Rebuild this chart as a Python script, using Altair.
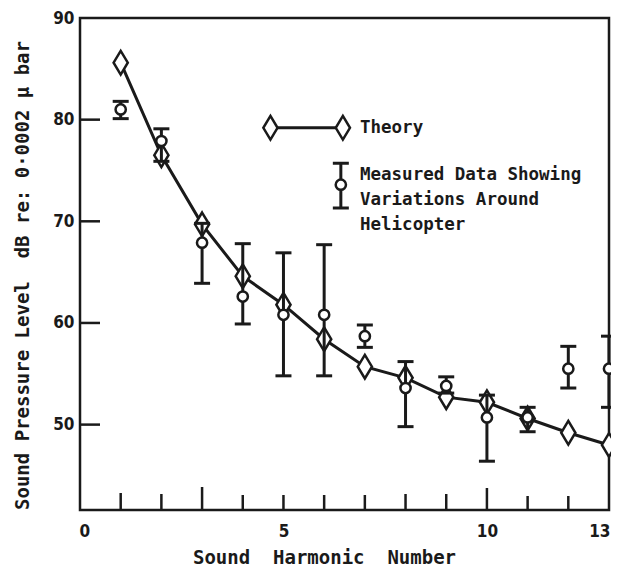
import altair as alt
import pandas as pd

# ---- data ----
harmonic = [1, 2, 3, 4, 5, 6, 7, 8, 9, 10, 11, 12, 13]
theory = [85.6, 76.5, 69.7, 64.6, 61.8, 58.4, 55.7, 54.6, 52.7, 52.2, 50.6, 49.2, 48.0]
measured = [81.0, 77.9, 67.9, 62.6, 60.8, 60.8, 58.7, 53.6, 53.8, 50.7, 50.7, 55.5, 55.5]
meas_lo = [80.1, 75.9, 63.9, 59.9, 54.8, 54.8, 57.6, 49.8, 53.1, 46.4, 49.3, 53.6, 51.7]
meas_hi = [81.8, 79.1, 69.8, 67.8, 66.9, 67.7, 59.8, 56.2, 54.7, 52.9, 51.7, 57.7, 58.7]

x_ticks = [1, 2, 3, 4, 5, 6, 7, 8, 9, 10, 11, 12]
x_tick_len = [17, 16, 23, 15, 15, 15, 15, 16, 16, 22, 14, 14]
y_ticks = [50, 60, 70, 80]

# legend annotation (in data coordinates)
leg_line_x = [4.68, 6.46]
leg_line_y = 79.2
leg_text_x = 6.88
leg_texts = ["Theory", "Measured Data Showing", "Variations Around", "Helicopter"]
leg_text_y = [79.2, 74.6, 72.1, 69.6]
leg_err_x = 6.41
leg_err = (71.3, 73.6, 75.7)  # low, centre, high

W, H = 529, 492
FONT = "DejaVu Sans Condensed"
MONO = "DejaVu Sans Mono"
INK = "#1a1a1a"
DIAMOND = "M0,-1L0.6,0L0,1L-0.6,0Z"

df = pd.DataFrame({"h": harmonic, "theory": theory, "meas": measured,
                   "lo": meas_lo, "hi": meas_hi})
xt = pd.DataFrame({"h": x_ticks, "top": [H - l for l in x_tick_len]})
yt = pd.DataFrame({"v": y_ticks})

xscale = alt.Scale(domain=[0, 13], nice=False, zero=False)
yscale = alt.Scale(domain=[41.6, 90], nice=False, zero=False)

xaxis = alt.Axis(values=[0, 5, 10, 13], ticks=False, tickSize=0, grid=False, domain=False,
                 labelFont=FONT, labelFontSize=17, labelFontWeight="bold", labelColor=INK,
                 labelPadding=13, labelFlush=True, labelFlushOffset=1,
                 title="Sound\u00a0 Harmonic\u00a0 Number", titleFont=MONO, titleFontSize=19,
                 titleFontWeight="bold", titleColor=INK, titleX=244, titleY=47,
                 titleBaseline="middle", titleAnchor="start", titleAlign="center")
yaxis = alt.Axis(values=[50, 60, 70, 80, 90], ticks=False, tickSize=0, grid=False, domain=False,
                 labelFont=FONT, labelFontSize=17, labelFontWeight="bold", labelColor=INK,
                 labelPadding=6, labelFlush=False,
                 title="Sound Pressure Level\u00a0 dB\u00a0re:\u00a00\u00b70002\u00a0\u03bc\u00a0bar",
                 titleFont=MONO, titleFontSize=19, titleFontWeight="bold", titleColor=INK,
                 titleAngle=270, titleX=-58, titleY=257, titleBaseline="middle",
                 titleAlign="center", titleAnchor="start")

base = alt.Chart(df)

line = base.mark_line(color=INK, strokeWidth=3).encode(
    x=alt.X("h:Q", scale=xscale, axis=xaxis),
    y=alt.Y("theory:Q", scale=yscale, axis=yaxis))

diamonds = base.mark_point(shape=DIAMOND, size=560, filled=True, fill="white",
                           stroke=INK, strokeWidth=2.5, opacity=1).encode(
    x="h:Q", y="theory:Q")

err = base.mark_rule(color=INK, strokeWidth=3).encode(x="h:Q", y="lo:Q", y2="hi:Q")
cap_lo = base.mark_tick(orient="horizontal", size=16, thickness=3, color=INK, opacity=1).encode(
    x="h:Q", y="lo:Q")
cap_hi = base.mark_tick(orient="horizontal", size=16, thickness=3, color=INK, opacity=1).encode(
    x="h:Q", y="hi:Q")
circles = base.mark_point(shape="circle", size=105, filled=True, fill="white",
                          stroke=INK, strokeWidth=2.5, opacity=1).encode(
    x="h:Q", y="meas:Q")

xtick = alt.Chart(xt).mark_rule(color=INK, strokeWidth=2.5).encode(
    x="h:Q", y=alt.Y("top:Q", scale=None), y2=alt.value(H))
ytick = alt.Chart(yt).mark_rule(color=INK, strokeWidth=2.5).encode(
    y="v:Q", x=alt.value(0), x2=alt.value(20))

# legend pieces
leg_l = pd.DataFrame({"x": leg_line_x, "y": [leg_line_y] * 2})
leg_line = alt.Chart(leg_l).mark_line(color=INK, strokeWidth=3).encode(x="x:Q", y="y:Q")
leg_dia = alt.Chart(leg_l).mark_point(shape=DIAMOND, size=560, filled=True, fill="white",
                                      stroke=INK, strokeWidth=2.5, opacity=1).encode(
    x="x:Q", y="y:Q")
leg_t = pd.DataFrame({"x": [leg_text_x] * 4, "y": leg_text_y, "t": leg_texts})
leg_text = alt.Chart(leg_t).mark_text(align="left", baseline="middle", font=MONO,
                                      fontSize=17.5, fontWeight="bold", color=INK).encode(
    x="x:Q", y="y:Q", text="t:N")
leg_e = pd.DataFrame({"x": [leg_err_x], "lo": [leg_err[0]], "c": [leg_err[1]], "hi": [leg_err[2]]})
leg_eb = alt.Chart(leg_e)
leg_err_rule = leg_eb.mark_rule(color=INK, strokeWidth=3).encode(x="x:Q", y="lo:Q", y2="hi:Q")
leg_cap1 = leg_eb.mark_tick(orient="horizontal", size=16, thickness=3, color=INK, opacity=1).encode(
    x="x:Q", y="lo:Q")
leg_cap2 = leg_eb.mark_tick(orient="horizontal", size=16, thickness=3, color=INK, opacity=1).encode(
    x="x:Q", y="hi:Q")
leg_circ = leg_eb.mark_point(shape="circle", size=105, filled=True, fill="white",
                             stroke=INK, strokeWidth=2.5, opacity=1).encode(x="x:Q", y="c:Q")

chart = alt.layer(
    line, diamonds, err, cap_lo, cap_hi, circles, xtick, ytick,
    leg_line, leg_dia, leg_err_rule, leg_cap1, leg_cap2, leg_circ, leg_text
).properties(
    width=W, height=H,
    autosize=alt.AutoSizeParams(type="none"),
    padding={"left": 72, "top": 10, "right": 2, "bottom": 56},
    background="white",
).configure_view(stroke=INK, strokeWidth=2.5)

chart.save("out.html", embed_options={"renderer": "svg", "actions": False})
